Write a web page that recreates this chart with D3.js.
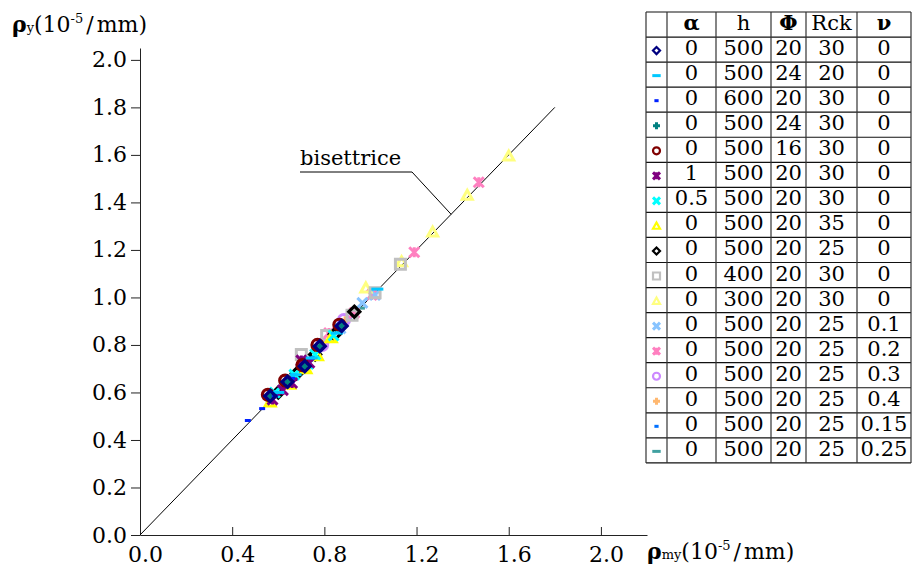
<!DOCTYPE html>
<html>
<head>
<meta charset="utf-8">
<script src="https://cdn.jsdelivr.net/npm/d3@7"></script>
<style>
  body { margin: 0; background: #fff; }
  svg { display: block; font-family: "DejaVu Serif", serif; }
</style>
</head>
<body>
<svg id="chart" width="916" height="568"></svg>
<script>
// table columns
const alphaVals = ["0", "0", "0", "0", "0", "1", "0.5", "0", "0", "0", "0", "0", "0", "0", "0", "0", "0"];
const hVals = ["500", "500", "600", "500", "500", "500", "500", "500", "500", "400", "300", "500", "500", "500", "500", "500", "500"];
const phiVals = ["20", "24", "20", "24", "16", "20", "20", "20", "20", "20", "20", "20", "20", "20", "20", "20", "20"];
const rckVals = ["30", "20", "30", "30", "30", "30", "30", "35", "25", "30", "30", "25", "25", "25", "25", "25", "25"];
const nuVals = ["0", "0", "0", "0", "0", "0", "0", "0", "0", "0", "0", "0.1", "0.2", "0.3", "0.4", "0.15", "0.25"];

// points [rho_my, rho_y] per series
const s1 = [[0.565, 0.585], [0.64, 0.645], [0.715, 0.71], [0.78, 0.795], [0.875, 0.88]];
const s2 = [[0.60, 0.60], [0.675, 0.675], [0.745, 0.745], [0.855, 0.85], [1.03, 1.035]];
const s3 = [[0.468, 0.482], [0.53, 0.532], [0.585, 0.585], [0.66, 0.66], [0.745, 0.745]];
const s4 = [[0.565, 0.585], [0.64, 0.645], [0.715, 0.71], [0.78, 0.795], [0.875, 0.88]];
const s5 = [[0.555, 0.59], [0.63, 0.65], [0.705, 0.715], [0.77, 0.80], [0.865, 0.885]];
const s6 = [[0.575, 0.57], [0.62, 0.61], [0.66, 0.64], [0.735, 0.725], [0.70, 0.735]];
const s7 = [[0.585, 0.60], [0.67, 0.675], [0.73, 0.72], [0.76, 0.76], [0.84, 0.84]];
const s8 = [[0.565, 0.56], [0.65, 0.635], [0.72, 0.70], [0.77, 0.755], [0.83, 0.83]];
const s9 = [[0.60, 0.60], [0.68, 0.68], [0.76, 0.76], [0.845, 0.845], [0.93, 0.94]];
const s10 = [[0.70, 0.76], [0.81, 0.84], [0.92, 0.925], [1.02, 1.02], [1.13, 1.14]];
const s11 = [[0.98, 1.04], [1.135, 1.15], [1.27, 1.275], [1.42, 1.43], [1.60, 1.595]];
const s12 = [[0.72, 0.73], [0.87, 0.87], [0.965, 0.977], [1.02, 1.01]];
const s13 = [[0.82, 0.85], [0.93, 0.935], [1.005, 1.01], [1.19, 1.19], [1.47, 1.485]];
const s14 = [[0.885, 0.905], [0.79, 0.80]];
const s15 = [[0.89, 0.90], [0.80, 0.81]];
const s16 = [[1.00, 1.03], [0.905, 0.91]];
const s17 = [[0.95, 0.955], [0.86, 0.865]];
const allSeries = [s1, s2, s3, s4, s5, s6, s7, s8, s9, s10, s11, s12, s13, s14, s15, s16, s17];

const xTicks = [0, 0.4, 0.8, 1.2, 1.6, 2.0];
const yTicks = [0, 0.2, 0.4, 0.6, 0.8, 1.0, 1.2, 1.4, 1.6, 1.8, 2.0];
const bisector = [[0, 0], [1.8, 1.8]];

// marker style per series
const colors = ["#000080", "#00c8ff", "#0022ff", "#008080", "#800000", "#800080", "#00ffff", "#ffff00",
    "#000000", "#c0c0c0", "#ffff80", "#88c4ff", "#ff80c0", "#cc88ff", "#ffb870", "#0070ff", "#40a0a0"];
const shapes = ["diamond", "longdash", "dash", "plus", "circle", "asterisk", "x", "triangle",
    "diamond", "square", "triangle", "x", "asterisk", "circle", "plus", "dash", "longdash"];

function markerPath(shape, r) {
    switch (shape) {
        case "diamond": return `M0,${-r}L${r},0L0,${r}L${-r},0Z`;
        case "square": return `M${-r},${-r}H${r}V${r}H${-r}Z`;
        case "circle": return `M${r},0A${r},${r} 0 1,1 ${-r},0A${r},${r} 0 1,1 ${r},0Z`;
        case "triangle": return `M0,${-r}L${r},${r * 0.8}L${-r},${r * 0.8}Z`;
        case "plus": return `M${-r},0H${r}M0,${-r}V${r}`;
        case "x": return `M${-r},${-r}L${r},${r}M${-r},${r}L${r},${-r}`;
        case "asterisk": return `M${-r},${-r}L${r},${r}M${-r},${r}L${r},${-r}M0,${-r}V${r}`;
        case "dash": return `M${-r * 0.6},0H${r * 0.6}`;
        case "longdash": return `M${-r * 1.2},0H${r * 1.2}`;
    }
}
const filledShapes = ["dash", "longdash", "plus", "x", "asterisk"];

const svg = d3.select("#chart");

const x = d3.scaleLinear().domain([0, 2.2]).range([140, 647]);
const y = d3.scaleLinear().domain([0, 2.05]).range([535, 48]);

// axes
const xAxis = svg.append("g")
    .attr("transform", `translate(0,${y(0)})`)
    .call(d3.axisBottom(x).tickValues(xTicks).tickFormat(d3.format(".1f"))
        .tickSizeInner(-8).tickSizeOuter(0).tickPadding(11));
const yAxis = svg.append("g")
    .attr("transform", `translate(${x(0)},0)`)
    .call(d3.axisLeft(y).tickValues(yTicks).tickFormat(d3.format(".1f"))
        .tickSizeInner(9).tickSizeOuter(0).tickPadding(4));

[xAxis, yAxis].forEach(a => {
    a.select(".domain").attr("stroke", "#222");
    a.selectAll(".tick line").attr("stroke", "#222");
    a.selectAll(".tick text")
        .attr("fill", "#000")
        .style("font-family", "'DejaVu Serif', serif")
        .style("font-size", "22px");
});
xAxis.selectAll(".tick text").attr("dx", 5);

// bisector line
svg.append("path")
    .datum(bisector)
    .attr("fill", "none")
    .attr("stroke", "#000")
    .attr("stroke-width", 1)
    .attr("d", d3.line().x(d => x(d[0])).y(d => y(d[1])));

// points, first series on top
allSeries.slice().reverse().forEach((pts, k) => {
    const i = allSeries.length - 1 - k;
    const big = shapes[i] === "diamond" || shapes[i] === "circle";
    svg.append("g").selectAll("path")
        .data(pts)
        .enter().append("path")
        .attr("transform", d => `translate(${x(d[0])},${y(d[1])})`)
        .attr("d", markerPath(shapes[i], big ? 5.5 : 5))
        .attr("fill", "none")
        .attr("stroke", colors[i])
        .attr("stroke-width", big ? 3.2 : 3);
});

// bisettrice annotation
svg.append("path")
    .attr("fill", "none")
    .attr("stroke", "#000")
    .attr("stroke-width", 1)
    .attr("d", `M300,172H412L${x(1.35)},${y(1.35)}`);
svg.append("text")
    .attr("x", 300)
    .attr("y", 165)
    .style("font-size", "21px")
    .text("bisettrice");

// axis titles
function axisTitle(xPos, yPos, sub) {
    const t = svg.append("text").attr("x", xPos).attr("y", yPos).style("font-size", "22px");
    t.append("tspan").style("font-weight", "bold").text("ρ");
    t.append("tspan").style("font-size", "13px").text(sub);
    t.append("tspan").text("(10");
    t.append("tspan").attr("dy", -9).style("font-size", "13px").text("-5");
    t.append("tspan").attr("dy", 9).attr("dx", 3).text("/");
    t.append("tspan").attr("dx", 3).text("mm)");
}
axisTitle(12, 32, "y");
axisTitle(647, 559, "my");

// legend table
const colX = [646, 667, 716, 771, 806, 857, 911];
const tableTop = 12;
const rowH = 25.05;
const nRows = alphaVals.length + 1;
const table = svg.append("g");

d3.range(nRows + 1).forEach(r => {
    table.append("line")
        .attr("x1", colX[0]).attr("x2", colX[colX.length - 1])
        .attr("y1", tableTop + r * rowH).attr("y2", tableTop + r * rowH)
        .attr("stroke", "#111").attr("stroke-width", 1.2);
});
colX.forEach(cx => {
    table.append("line")
        .attr("x1", cx).attr("x2", cx)
        .attr("y1", tableTop).attr("y2", tableTop + nRows * rowH)
        .attr("stroke", "#333").attr("stroke-width", 1.2);
});

const headers = [["α", true], ["h", false], ["Φ", true], ["Rck", false], ["ν", true]];
headers.forEach(([txt, bold], c) => {
    table.append("text")
        .attr("x", (colX[c + 1] + colX[c + 2]) / 2)
        .attr("y", tableTop + 18)
        .attr("text-anchor", "middle")
        .style("font-size", "21px")
        .style("font-weight", bold ? "bold" : "normal")
        .text(txt);
});

const columns = [alphaVals, hVals, phiVals, rckVals, nuVals];
alphaVals.forEach((_, r) => {
    const rowTop = tableTop + (r + 1) * rowH;
    table.append("path")
        .attr("transform", `translate(${(colX[0] + colX[1]) / 2},${rowTop + rowH / 2 + 1})`)
        .attr("d", markerPath(shapes[r], 3.5))
        .attr("fill", "none")
        .attr("stroke", colors[r])
        .attr("stroke-width", filledShapes.includes(shapes[r]) ? 3 : 2.2);
    columns.forEach((col, c) => {
        table.append("text")
            .attr("x", (colX[c + 1] + colX[c + 2]) / 2)
            .attr("y", rowTop + 18)
            .attr("text-anchor", "middle")
            .style("font-size", "21px")
            .text(col[r]);
    });
});
</script>
</body>
</html>
